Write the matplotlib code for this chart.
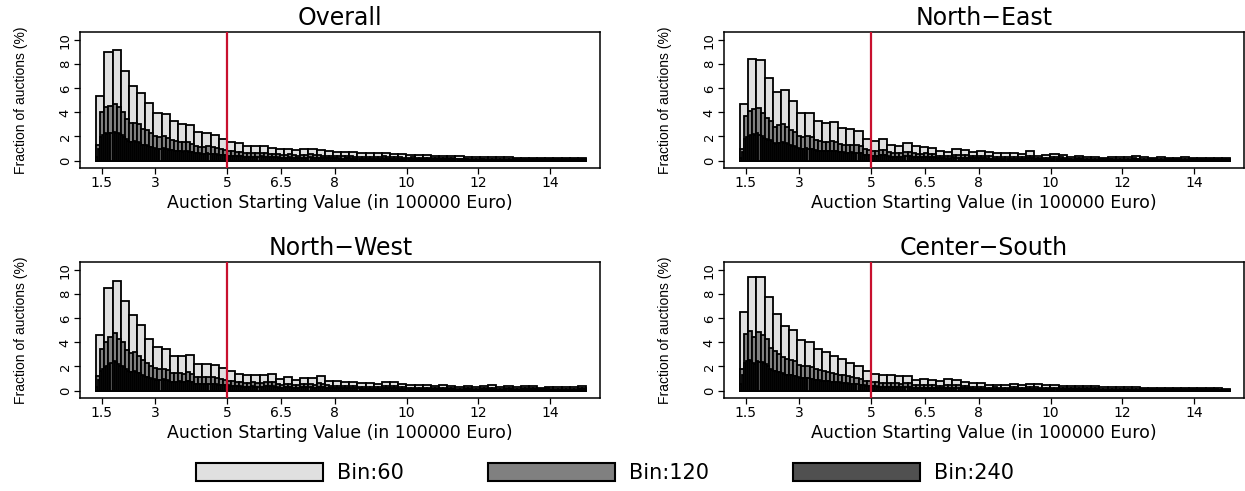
import numpy as np
import matplotlib
matplotlib.use("Agg")
import matplotlib.pyplot as plt
from matplotlib.patches import Patch

# share of auctions (%) per starting-value bin, three bin resolutions per region
REGIONS = ["Overall", "North\u2212East", "North\u2212West", "Center\u2212South"]
BIN_COUNTS = [60, 120, 240]
BIN_LABELS = ["Bin:60", "Bin:120", "Bin:240"]
VALUE_RANGE = (1.35, 15.0)
THRESHOLD = 5
X_TICKS = [1.5, 3, 5, 6.5, 8, 10, 12, 14]
X_TICK_LABELS = ["1.5", "3", "5", "6.5", "8", "10", "12", "14"]
Y_TICKS = [0, 2, 4, 6, 8, 10]

OVERALL_60 = [
    5.35, 9.00, 9.17, 7.48, 6.23, 5.65, 4.82, 3.99, 3.85, 3.32, 3.07, 2.96, 2.41, 2.30, 2.13, 1.83, 1.58, 1.44, 1.25, 1.25,
    1.25, 1.08, 1.00, 1.00, 0.86, 0.94, 1.00, 0.86, 0.78, 0.72, 0.70, 0.68, 0.62, 0.60, 0.64, 0.66, 0.55, 0.52, 0.50, 0.46,
    0.45, 0.42, 0.40, 0.36, 0.34, 0.33, 0.30, 0.32, 0.28, 0.29, 0.26, 0.25, 0.22, 0.24, 0.21, 0.20, 0.20, 0.19, 0.18, 0.20,
]
OVERALL_120 = [
    1.30, 4.05, 4.45, 4.55, 4.70, 4.47, 4.05, 3.43, 3.10, 3.13, 3.05, 2.60, 2.55, 2.27, 2.05, 1.94, 2.00, 1.85, 1.72, 1.60,
    1.55, 1.52, 1.55, 1.41, 1.25, 1.16, 1.12, 1.18, 1.10, 1.03, 0.95, 0.88, 0.82, 0.76, 0.70, 0.74, 0.64, 0.61, 0.60, 0.65,
    0.66, 0.59, 0.55, 0.53, 0.52, 0.48, 0.49, 0.51, 0.44, 0.42, 0.45, 0.49, 0.52, 0.48, 0.44, 0.42, 0.40, 0.38, 0.37, 0.35,
    0.34, 0.36, 0.35, 0.33, 0.32, 0.30, 0.29, 0.31, 0.31, 0.33, 0.35, 0.31, 0.28, 0.27, 0.27, 0.25, 0.24, 0.26, 0.24, 0.22,
    0.23, 0.22, 0.21, 0.21, 0.21, 0.19, 0.18, 0.18, 0.17, 0.17, 0.17, 0.16, 0.15, 0.15, 0.17, 0.15, 0.14, 0.14, 0.14, 0.15,
    0.13, 0.13, 0.13, 0.12, 0.11, 0.11, 0.12, 0.12, 0.11, 0.10, 0.10, 0.10, 0.10, 0.10, 0.10, 0.09, 0.09, 0.09, 0.10, 0.10,
]
OVERALL_240 = [
    0.32, 0.98, 1.95, 2.10, 2.25, 2.20, 2.30, 2.25, 2.38, 2.32, 2.30, 2.17, 2.10, 1.95, 1.78, 1.65, 1.52, 1.58, 1.60, 1.53,
    1.55, 1.50, 1.32, 1.28, 1.30, 1.25, 1.15, 1.12, 1.05, 1.00, 0.95, 0.99, 1.02, 0.98, 0.94, 0.91, 0.88, 0.84, 0.82, 0.78,
    0.79, 0.76, 0.74, 0.78, 0.80, 0.75, 0.72, 0.69, 0.64, 0.61, 0.60, 0.56, 0.55, 0.57, 0.61, 0.57, 0.56, 0.54, 0.53, 0.50,
    0.49, 0.46, 0.45, 0.43, 0.42, 0.40, 0.39, 0.37, 0.36, 0.34, 0.37, 0.37, 0.33, 0.31, 0.30, 0.31, 0.31, 0.29, 0.32, 0.33,
    0.34, 0.32, 0.30, 0.29, 0.28, 0.27, 0.27, 0.26, 0.27, 0.25, 0.24, 0.24, 0.25, 0.24, 0.26, 0.25, 0.22, 0.22, 0.21, 0.21,
    0.22, 0.23, 0.25, 0.24, 0.27, 0.25, 0.24, 0.24, 0.22, 0.22, 0.21, 0.21, 0.20, 0.20, 0.19, 0.19, 0.19, 0.18, 0.18, 0.17,
    0.17, 0.17, 0.18, 0.18, 0.18, 0.17, 0.17, 0.16, 0.16, 0.16, 0.15, 0.15, 0.15, 0.14, 0.16, 0.15, 0.15, 0.16, 0.17, 0.16,
    0.18, 0.17, 0.16, 0.15, 0.14, 0.14, 0.14, 0.13, 0.13, 0.14, 0.13, 0.12, 0.12, 0.12, 0.13, 0.13, 0.12, 0.12, 0.11, 0.11,
    0.12, 0.11, 0.11, 0.11, 0.11, 0.10, 0.10, 0.11, 0.11, 0.10, 0.10, 0.09, 0.09, 0.09, 0.09, 0.09, 0.09, 0.08, 0.08, 0.09,
    0.09, 0.08, 0.08, 0.08, 0.08, 0.07, 0.07, 0.08, 0.09, 0.08, 0.08, 0.07, 0.07, 0.07, 0.07, 0.07, 0.07, 0.07, 0.08, 0.07,
    0.07, 0.06, 0.07, 0.06, 0.06, 0.07, 0.06, 0.06, 0.06, 0.05, 0.05, 0.06, 0.06, 0.06, 0.06, 0.06, 0.06, 0.05, 0.05, 0.05,
    0.05, 0.05, 0.05, 0.05, 0.05, 0.05, 0.05, 0.05, 0.05, 0.05, 0.05, 0.04, 0.05, 0.04, 0.04, 0.05, 0.05, 0.05, 0.05, 0.05,
]

NORTH_EAST_60 = [
    4.68, 8.42, 8.34, 6.84, 5.73, 5.87, 4.93, 3.99, 3.93, 3.32, 3.13, 3.19, 2.69, 2.60, 2.49, 1.83, 1.63, 1.77, 1.30, 1.25,
    1.45, 1.18, 1.16, 1.08, 0.83, 0.70, 0.97, 0.89, 0.75, 0.80, 0.69, 0.62, 0.61, 0.60, 0.58, 0.80, 0.42, 0.48, 0.53, 0.50,
    0.33, 0.42, 0.28, 0.30, 0.25, 0.33, 0.30, 0.28, 0.35, 0.27, 0.25, 0.30, 0.22, 0.24, 0.28, 0.20, 0.22, 0.20, 0.25, 0.22,
]
NORTH_EAST_120 = [
    0.95, 3.73, 4.10, 4.32, 4.38, 3.96, 3.55, 3.29, 2.80, 2.93, 3.05, 2.82, 2.55, 2.38, 2.02, 1.97, 2.00, 1.93, 1.70, 1.62,
    1.55, 1.58, 1.62, 1.57, 1.38, 1.31, 1.28, 1.32, 1.27, 1.22, 0.95, 0.88, 0.80, 0.83, 0.90, 0.87, 0.67, 0.63, 0.60, 0.65,
    0.75, 0.70, 0.60, 0.58, 0.57, 0.59, 0.56, 0.52, 0.42, 0.41, 0.35, 0.35, 0.50, 0.47, 0.45, 0.44, 0.38, 0.37, 0.41, 0.39,
    0.35, 0.34, 0.32, 0.30, 0.30, 0.31, 0.31, 0.29, 0.29, 0.29, 0.42, 0.38, 0.21, 0.21, 0.25, 0.23, 0.27, 0.26, 0.26, 0.24,
    0.17, 0.16, 0.22, 0.20, 0.14, 0.14, 0.15, 0.15, 0.13, 0.12, 0.17, 0.16, 0.15, 0.15, 0.14, 0.14, 0.18, 0.17, 0.14, 0.13,
    0.12, 0.13, 0.16, 0.14, 0.11, 0.11, 0.12, 0.12, 0.14, 0.14, 0.10, 0.10, 0.11, 0.11, 0.10, 0.10, 0.13, 0.12, 0.11, 0.11,
]
NORTH_EAST_240 = [
    0.25, 0.70, 1.80, 1.93, 2.00, 2.10, 2.20, 2.12, 2.25, 2.13, 2.05, 1.91, 1.82, 1.73, 1.68, 1.61, 1.42, 1.38, 1.45, 1.48,
    1.55, 1.50, 1.44, 1.38, 1.30, 1.25, 1.22, 1.16, 1.03, 0.99, 0.98, 0.99, 1.02, 0.98, 0.99, 0.94, 0.87, 0.83, 0.82, 0.80,
    0.79, 0.76, 0.78, 0.80, 0.82, 0.80, 0.80, 0.77, 0.70, 0.68, 0.67, 0.64, 0.63, 0.65, 0.67, 0.65, 0.65, 0.62, 0.62, 0.60,
    0.49, 0.46, 0.45, 0.43, 0.40, 0.40, 0.41, 0.42, 0.46, 0.44, 0.44, 0.43, 0.34, 0.33, 0.32, 0.31, 0.30, 0.30, 0.33, 0.32,
    0.38, 0.37, 0.36, 0.34, 0.30, 0.30, 0.29, 0.29, 0.28, 0.29, 0.30, 0.29, 0.29, 0.27, 0.26, 0.26, 0.21, 0.21, 0.21, 0.20,
    0.18, 0.17, 0.17, 0.18, 0.26, 0.24, 0.24, 0.23, 0.23, 0.22, 0.22, 0.22, 0.19, 0.19, 0.19, 0.18, 0.21, 0.20, 0.20, 0.19,
    0.18, 0.17, 0.17, 0.17, 0.16, 0.16, 0.15, 0.15, 0.15, 0.15, 0.16, 0.15, 0.16, 0.15, 0.15, 0.14, 0.15, 0.14, 0.14, 0.15,
    0.22, 0.20, 0.19, 0.19, 0.11, 0.10, 0.11, 0.10, 0.13, 0.12, 0.12, 0.11, 0.14, 0.13, 0.13, 0.13, 0.13, 0.13, 0.12, 0.12,
    0.09, 0.08, 0.08, 0.08, 0.11, 0.11, 0.10, 0.10, 0.07, 0.07, 0.07, 0.07, 0.08, 0.07, 0.08, 0.07, 0.07, 0.06, 0.06, 0.06,
    0.09, 0.08, 0.08, 0.08, 0.08, 0.07, 0.08, 0.07, 0.07, 0.07, 0.07, 0.07, 0.09, 0.09, 0.09, 0.08, 0.07, 0.07, 0.07, 0.06,
    0.06, 0.06, 0.07, 0.06, 0.08, 0.08, 0.07, 0.07, 0.06, 0.05, 0.06, 0.05, 0.06, 0.06, 0.06, 0.06, 0.07, 0.07, 0.07, 0.07,
    0.05, 0.05, 0.05, 0.05, 0.06, 0.05, 0.05, 0.06, 0.05, 0.05, 0.05, 0.05, 0.07, 0.06, 0.06, 0.06, 0.06, 0.05, 0.06, 0.05,
]

NORTH_WEST_60 = [
    4.63, 8.53, 9.06, 7.40, 6.29, 5.43, 4.29, 3.60, 3.49, 2.88, 2.85, 2.99, 2.22, 2.22, 2.13, 1.86, 1.60, 1.39, 1.30, 1.32,
    1.33, 1.40, 1.00, 1.11, 0.89, 1.05, 1.03, 1.19, 0.83, 0.78, 0.69, 0.69, 0.64, 0.64, 0.55, 0.69, 0.75, 0.55, 0.50, 0.47,
    0.47, 0.36, 0.44, 0.36, 0.28, 0.36, 0.28, 0.36, 0.42, 0.28, 0.36, 0.28, 0.36, 0.39, 0.22, 0.33, 0.28, 0.28, 0.28, 0.36,
]
NORTH_WEST_120 = [
    1.20, 3.43, 4.05, 4.48, 4.80, 4.26, 4.00, 3.40, 3.10, 3.19, 2.90, 2.53, 2.25, 2.04, 1.85, 1.75, 1.80, 1.69, 1.42, 1.46,
    1.48, 1.37, 1.58, 1.41, 1.13, 1.09, 1.10, 1.12, 1.12, 1.01, 0.96, 0.90, 0.82, 0.78, 0.72, 0.67, 0.64, 0.66, 0.68, 0.64,
    0.65, 0.68, 0.73, 0.67, 0.51, 0.49, 0.54, 0.57, 0.46, 0.43, 0.52, 0.53, 0.53, 0.50, 0.62, 0.57, 0.42, 0.41, 0.40, 0.38,
    0.35, 0.34, 0.34, 0.35, 0.33, 0.31, 0.32, 0.32, 0.28, 0.27, 0.35, 0.34, 0.39, 0.36, 0.28, 0.27, 0.25, 0.25, 0.24, 0.23,
    0.23, 0.24, 0.18, 0.18, 0.23, 0.21, 0.18, 0.18, 0.14, 0.14, 0.19, 0.17, 0.14, 0.14, 0.18, 0.18, 0.22, 0.20, 0.14, 0.14,
    0.18, 0.18, 0.14, 0.14, 0.19, 0.17, 0.20, 0.19, 0.11, 0.11, 0.17, 0.16, 0.14, 0.14, 0.15, 0.13, 0.14, 0.14, 0.18, 0.18,
]
NORTH_WEST_240 = [
    0.30, 0.90, 1.65, 1.78, 1.98, 2.07, 2.20, 2.28, 2.42, 2.38, 2.18, 2.08, 2.05, 1.95, 1.75, 1.65, 1.52, 1.58, 1.62, 1.57,
    1.48, 1.42, 1.30, 1.23, 1.15, 1.10, 1.05, 0.99, 0.94, 0.91, 0.89, 0.86, 0.92, 0.88, 0.86, 0.83, 0.72, 0.70, 0.72, 0.74,
    0.76, 0.72, 0.70, 0.67, 0.81, 0.77, 0.72, 0.69, 0.58, 0.55, 0.55, 0.54, 0.54, 0.56, 0.57, 0.55, 0.58, 0.54, 0.52, 0.49,
    0.49, 0.47, 0.46, 0.44, 0.42, 0.40, 0.40, 0.38, 0.37, 0.35, 0.34, 0.33, 0.32, 0.32, 0.33, 0.33, 0.35, 0.33, 0.33, 0.31,
    0.33, 0.32, 0.34, 0.34, 0.37, 0.36, 0.34, 0.33, 0.26, 0.25, 0.25, 0.24, 0.27, 0.27, 0.29, 0.28, 0.24, 0.22, 0.22, 0.21,
    0.26, 0.26, 0.27, 0.26, 0.27, 0.26, 0.25, 0.25, 0.32, 0.30, 0.29, 0.28, 0.21, 0.21, 0.21, 0.20, 0.20, 0.20, 0.19, 0.19,
    0.18, 0.17, 0.17, 0.17, 0.17, 0.17, 0.18, 0.17, 0.17, 0.16, 0.16, 0.15, 0.16, 0.16, 0.16, 0.16, 0.14, 0.14, 0.14, 0.13,
    0.18, 0.17, 0.17, 0.17, 0.20, 0.19, 0.18, 0.18, 0.14, 0.14, 0.14, 0.13, 0.13, 0.12, 0.13, 0.12, 0.12, 0.12, 0.12, 0.11,
    0.12, 0.11, 0.12, 0.12, 0.09, 0.09, 0.09, 0.09, 0.12, 0.11, 0.11, 0.10, 0.09, 0.09, 0.09, 0.09, 0.07, 0.07, 0.07, 0.07,
    0.10, 0.09, 0.09, 0.08, 0.07, 0.07, 0.07, 0.07, 0.09, 0.09, 0.09, 0.09, 0.11, 0.11, 0.10, 0.10, 0.07, 0.07, 0.07, 0.07,
    0.09, 0.09, 0.09, 0.09, 0.07, 0.07, 0.07, 0.07, 0.10, 0.09, 0.09, 0.08, 0.10, 0.10, 0.10, 0.09, 0.06, 0.05, 0.06, 0.05,
    0.09, 0.08, 0.08, 0.08, 0.07, 0.07, 0.07, 0.07, 0.08, 0.07, 0.07, 0.06, 0.07, 0.07, 0.07, 0.07, 0.09, 0.09, 0.09, 0.09,
]

CENTER_SOUTH_60 = [
    6.51, 9.42, 9.45, 7.76, 6.32, 5.40, 4.99, 4.21, 4.02, 3.46, 3.19, 2.85, 2.58, 2.30, 2.02, 1.61, 1.40, 1.28, 1.25, 1.19,
    1.19, 0.89, 0.94, 0.85, 0.80, 0.94, 0.90, 0.72, 0.65, 0.60, 0.50, 0.50, 0.50, 0.52, 0.50, 0.55, 0.52, 0.45, 0.42, 0.38,
    0.38, 0.36, 0.40, 0.36, 0.30, 0.30, 0.28, 0.26, 0.28, 0.25, 0.24, 0.22, 0.22, 0.24, 0.20, 0.20, 0.18, 0.18, 0.17, 0.16,
]
CENTER_SOUTH_120 = [
    1.80, 4.71, 4.95, 4.47, 4.85, 4.60, 4.25, 3.51, 3.25, 3.07, 2.80, 2.60, 2.55, 2.44, 2.15, 2.06, 2.05, 1.97, 1.78, 1.68,
    1.63, 1.56, 1.45, 1.40, 1.32, 1.26, 1.18, 1.12, 1.05, 0.97, 0.82, 0.79, 0.72, 0.68, 0.65, 0.63, 0.63, 0.62, 0.61, 0.58,
    0.60, 0.59, 0.45, 0.44, 0.48, 0.46, 0.43, 0.42, 0.41, 0.39, 0.48, 0.46, 0.46, 0.44, 0.37, 0.35, 0.33, 0.32, 0.31, 0.29,
    0.25, 0.25, 0.26, 0.24, 0.25, 0.25, 0.26, 0.26, 0.25, 0.25, 0.28, 0.27, 0.27, 0.25, 0.23, 0.22, 0.21, 0.21, 0.19, 0.19,
    0.20, 0.18, 0.18, 0.18, 0.21, 0.19, 0.18, 0.18, 0.15, 0.15, 0.15, 0.15, 0.14, 0.14, 0.13, 0.13, 0.14, 0.14, 0.13, 0.12,
    0.12, 0.12, 0.11, 0.11, 0.11, 0.11, 0.12, 0.12, 0.10, 0.10, 0.10, 0.10, 0.09, 0.09, 0.09, 0.09, 0.09, 0.08, 0.08, 0.08,
]
CENTER_SOUTH_240 = [
    0.55, 1.25, 2.25, 2.46, 2.50, 2.45, 2.30, 2.17, 2.48, 2.37, 2.35, 2.25, 2.20, 2.05, 1.80, 1.71, 1.65, 1.60, 1.56, 1.51,
    1.43, 1.37, 1.33, 1.27, 1.30, 1.25, 1.24, 1.20, 1.10, 1.05, 1.04, 1.02, 1.04, 1.01, 1.00, 0.97, 0.91, 0.87, 0.85, 0.83,
    0.83, 0.80, 0.79, 0.77, 0.74, 0.71, 0.71, 0.69, 0.67, 0.65, 0.64, 0.62, 0.60, 0.58, 0.57, 0.55, 0.53, 0.52, 0.49, 0.48,
    0.42, 0.40, 0.40, 0.39, 0.37, 0.35, 0.35, 0.33, 0.33, 0.32, 0.32, 0.31, 0.32, 0.31, 0.31, 0.31, 0.31, 0.30, 0.30, 0.28,
    0.30, 0.30, 0.30, 0.29, 0.23, 0.22, 0.22, 0.22, 0.24, 0.24, 0.23, 0.23, 0.22, 0.21, 0.21, 0.21, 0.21, 0.20, 0.20, 0.19,
    0.24, 0.24, 0.23, 0.23, 0.23, 0.23, 0.22, 0.22, 0.19, 0.18, 0.18, 0.17, 0.17, 0.16, 0.16, 0.16, 0.16, 0.15, 0.15, 0.14,
    0.13, 0.12, 0.12, 0.13, 0.13, 0.13, 0.12, 0.12, 0.13, 0.12, 0.12, 0.13, 0.13, 0.13, 0.13, 0.13, 0.13, 0.12, 0.12, 0.13,
    0.14, 0.14, 0.14, 0.13, 0.14, 0.13, 0.13, 0.12, 0.12, 0.11, 0.11, 0.11, 0.11, 0.10, 0.11, 0.10, 0.10, 0.09, 0.10, 0.09,
    0.10, 0.10, 0.09, 0.09, 0.09, 0.09, 0.09, 0.09, 0.11, 0.10, 0.10, 0.09, 0.09, 0.09, 0.09, 0.09, 0.08, 0.07, 0.08, 0.07,
    0.08, 0.07, 0.08, 0.07, 0.07, 0.07, 0.07, 0.07, 0.07, 0.06, 0.07, 0.06, 0.07, 0.07, 0.07, 0.07, 0.07, 0.06, 0.06, 0.06,
    0.06, 0.06, 0.06, 0.06, 0.06, 0.05, 0.06, 0.05, 0.06, 0.05, 0.06, 0.05, 0.06, 0.06, 0.06, 0.06, 0.05, 0.05, 0.05, 0.05,
    0.05, 0.05, 0.05, 0.05, 0.05, 0.04, 0.05, 0.04, 0.05, 0.04, 0.05, 0.04, 0.05, 0.04, 0.04, 0.04, 0.04, 0.04, 0.04, 0.04,
]

SHARES = [
    [OVERALL_60, OVERALL_120, OVERALL_240],
    [NORTH_EAST_60, NORTH_EAST_120, NORTH_EAST_240],
    [NORTH_WEST_60, NORTH_WEST_120, NORTH_WEST_240],
    [CENTER_SOUTH_60, CENTER_SOUTH_120, CENTER_SOUTH_240],
]

FILLS = ["#e0e0e0", "#808080", "#505050"]
RED = "#c8102e"
SANS = ["DejaVu Sans"]
NARROW = ["Liberation Sans", "DejaVu Sans"]

# axes boxes in figure fractions: left/right columns, top/bottom rows
COL_LEFT = [0.0643, 0.5815]
COL_WIDTH = 0.418
ROW_BOTTOM = [0.6578, 0.1894]
ROW_HEIGHT = 0.277


def draw_panel(ax, title, shares):
    for n, values, fill in zip(BIN_COUNTS, shares, FILLS):
        edges = np.linspace(VALUE_RANGE[0], VALUE_RANGE[1], n + 1)
        ax.bar(edges[:-1], values, width=np.diff(edges), align="edge",
               color=fill, edgecolor="black", linewidth=1.3)
    ax.axvline(THRESHOLD, color=RED, linewidth=1.6, zorder=5)

    ax.set_xlim(0.9, 15.4)
    ax.set_ylim(-0.62, 10.68)
    ax.set_xticks(X_TICKS)
    ax.set_xticklabels(X_TICK_LABELS, family=SANS, fontsize=10)
    ax.set_yticks(Y_TICKS)
    ax.set_yticklabels([str(t) for t in Y_TICKS], family=SANS, fontsize=9.5,
                       rotation=90, va="center")
    ax.tick_params(direction="out", length=4, width=0.9, colors="black")
    ax.tick_params(axis="x", pad=1.5)
    ax.tick_params(axis="y", pad=2)
    for spine in ax.spines.values():
        spine.set_linewidth(1.1)

    ax.set_title(title, family=SANS, fontsize=17, pad=5)
    ax.set_xlabel("Auction Starting Value (in 100000 Euro)", family=SANS, fontsize=12.5)
    ax.xaxis.set_label_coords(0.5, -0.19)
    ax.set_ylabel("Fraction of auctions (%)", family=NARROW, fontsize=10)
    ax.yaxis.set_label_coords(-0.1, 0.5)


def main():
    fig = plt.figure(figsize=(12.45, 4.91), dpi=100)
    for i, (title, shares) in enumerate(zip(REGIONS, SHARES)):
        row, col = divmod(i, 2)
        ax = fig.add_axes([COL_LEFT[col], ROW_BOTTOM[row], COL_WIDTH, ROW_HEIGHT])
        draw_panel(ax, title, shares)

    handles = [Patch(facecolor=c, edgecolor="black", linewidth=1.5) for c in FILLS]
    fig.legend(handles, BIN_LABELS, loc="center", bbox_to_anchor=(0.486, 0.037),
               ncol=3, frameon=False, handlelength=6.1, handleheight=1.0,
               handletextpad=0.7, columnspacing=4.0,
               prop={"family": SANS, "size": 15})

    fig.savefig("out.png", dpi=100)
    plt.close(fig)


if __name__ == "__main__":
    main()
